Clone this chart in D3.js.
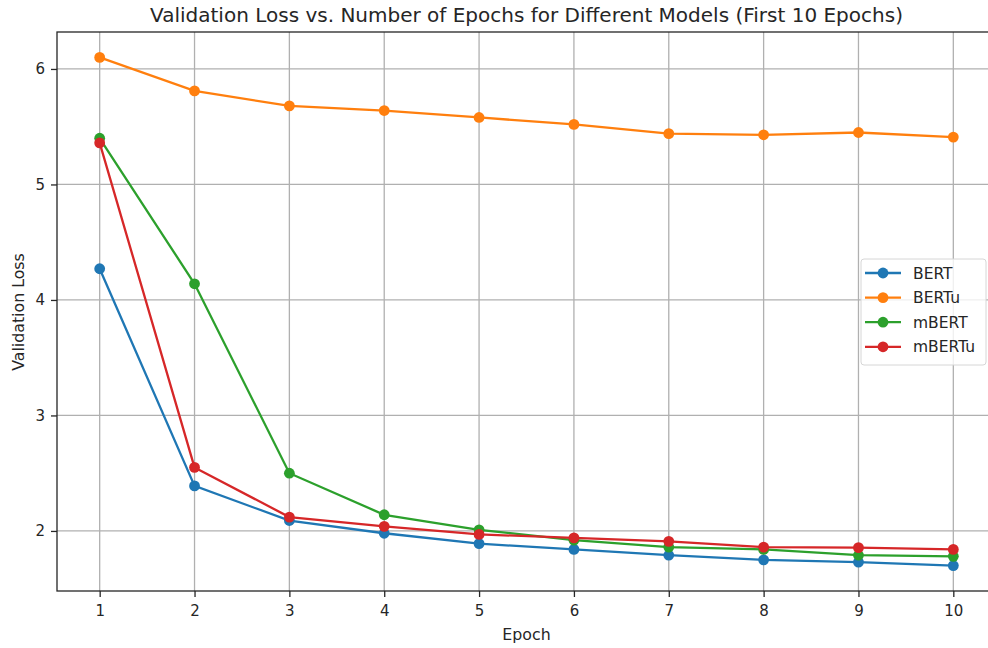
<!DOCTYPE html>
<html>
<head>
<meta charset="utf-8">
<script src="https://cdn.jsdelivr.net/npm/d3@7"></script>
<style>
  body { margin: 0; background: #fff; }
  svg text { font-family: "DejaVu Sans", sans-serif; fill: #262626; }
</style>
</head>
<body>
<div id="chart"></div>
<script>
// data
var epochs = [1, 2, 3, 4, 5, 6, 7, 8, 9, 10];
var bert   = [4.27, 2.39, 2.09, 1.98, 1.89, 1.84, 1.79, 1.75, 1.73, 1.70];
var bertu  = [6.10, 5.81, 5.68, 5.64, 5.58, 5.52, 5.44, 5.43, 5.45, 5.41];
var mbert  = [5.40, 4.14, 2.50, 2.14, 2.01, 1.92, 1.86, 1.84, 1.79, 1.78];
var mbertu = [5.36, 2.55, 2.12, 2.04, 1.97, 1.94, 1.91, 1.86, 1.855, 1.84];
var seriesNames = ["BERT", "BERTu", "mBERT", "mBERTu"];
var yTicks = [2, 3, 4, 5, 6];

var w = 988, h = 648;
var padL = 57, padR = 996, padT = 32, padB = 591;

var colors = ["#1f77b4", "#ff7f0e", "#2ca02c", "#d62728"];
var allSeries = [bert, bertu, mbert, mbertu];

var svg = d3.select("#chart").append("svg")
    .attr("width", w)
    .attr("height", h);

var x = d3.scaleLinear().domain([0.55, 10.45]).range([padL, padR]);
var y = d3.scaleLinear().domain([1.48, 6.32]).range([padB, padT]);

// grid
svg.append("g").selectAll("line")
    .data(epochs).enter().append("line")
    .attr("x1", function (d) { return x(d); })
    .attr("x2", function (d) { return x(d); })
    .attr("y1", padT).attr("y2", padB)
    .attr("stroke", "#b0b0b0").attr("stroke-width", 1.3);

svg.append("g").selectAll("line")
    .data(yTicks).enter().append("line")
    .attr("x1", padL).attr("x2", padR)
    .attr("y1", function (d) { return y(d); })
    .attr("y2", function (d) { return y(d); })
    .attr("stroke", "#b0b0b0").attr("stroke-width", 1.3);

// axes
var xAxis = svg.append("g")
    .attr("transform", "translate(0," + padB + ")")
    .call(d3.axisBottom(x).tickValues(epochs).tickSize(6).tickPadding(8));
var yAxis = svg.append("g")
    .attr("transform", "translate(" + padL + ",0)")
    .call(d3.axisLeft(y).tickValues(yTicks).tickFormat(d3.format("d")).tickSize(6).tickPadding(6));

[xAxis, yAxis].forEach(function (a) {
    a.select(".domain").remove();
    a.selectAll("line").attr("stroke", "#262626").attr("stroke-width", 1.3);
    a.selectAll("text").style("font-size", "15px").attr("fill", "#262626");
});

// frame
svg.append("rect")
    .attr("x", padL).attr("y", padT)
    .attr("width", padR - padL).attr("height", padB - padT)
    .attr("fill", "none").attr("stroke", "#262626").attr("stroke-width", 1.3);

// lines + markers
var line = d3.line()
    .x(function (d, i) { return x(epochs[i]); })
    .y(function (d) { return y(d); });

allSeries.forEach(function (s, k) {
    svg.append("path")
        .datum(s)
        .attr("d", line)
        .attr("fill", "none")
        .attr("stroke", colors[k])
        .attr("stroke-width", 2.3);
    svg.append("g").selectAll("circle")
        .data(s).enter().append("circle")
        .attr("cx", function (d, i) { return x(epochs[i]); })
        .attr("cy", function (d) { return y(d); })
        .attr("r", 5.4)
        .attr("fill", colors[k]);
});

// title and labels
svg.append("text")
    .text("Validation Loss vs. Number of Epochs for Different Models (First 10 Epochs)")
    .attr("x", (padL + padR) / 2).attr("y", 22)
    .attr("text-anchor", "middle")
    .style("font-size", "20px");

svg.append("text")
    .text("Epoch")
    .attr("x", (padL + padR) / 2).attr("y", 640)
    .attr("text-anchor", "middle")
    .style("font-size", "15.8px");

svg.append("text")
    .text("Validation Loss")
    .attr("transform", "translate(23.5,312) rotate(-90)")
    .attr("text-anchor", "middle")
    .style("font-size", "15.8px");

// legend
var lg = svg.append("g").attr("transform", "translate(861,259)");
lg.append("rect")
    .attr("width", 125).attr("height", 106)
    .attr("rx", 3)
    .attr("fill", "#fff").attr("fill-opacity", 0.8)
    .attr("stroke", "#d6d6d6");

var items = lg.selectAll("g.item")
    .data(seriesNames).enter().append("g")
    .attr("transform", function (d, i) { return "translate(0," + (14 + i * 24.6) + ")"; });
items.append("line")
    .attr("x1", 4).attr("x2", 40)
    .attr("stroke", function (d, i) { return colors[i]; })
    .attr("stroke-width", 2.3);
items.append("circle")
    .attr("cx", 22).attr("r", 5.4)
    .attr("fill", function (d, i) { return colors[i]; });
items.append("text")
    .text(function (d) { return d; })
    .attr("x", 52).attr("y", 5.6)
    .style("font-size", "15.5px");
</script>
</body>
</html>
